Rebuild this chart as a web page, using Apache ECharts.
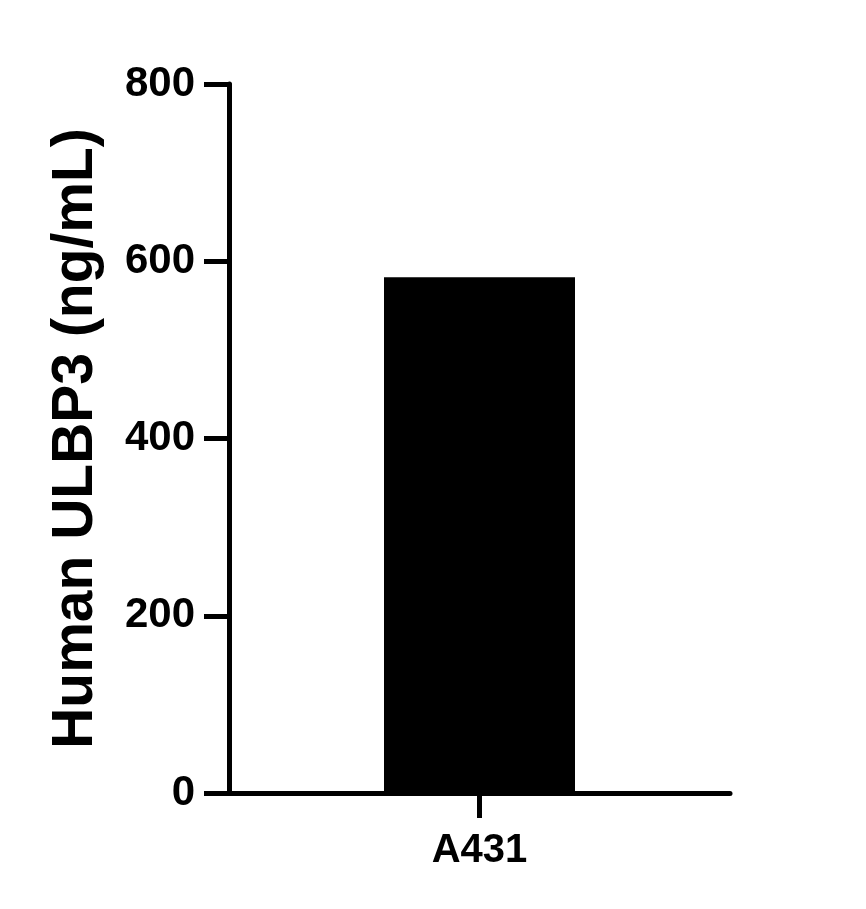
<!DOCTYPE html>
<html><head><meta charset="utf-8">
<script src="https://cdn.jsdelivr.net/npm/echarts@6/dist/echarts.min.js"></script>
<style>html,body{margin:0;padding:0;background:#fff}#c{width:866px;height:909px}</style>
</head><body><div id="c"></div>
<script>
var categories = ['A431'];
var values = [582];
var yTicks = [0, 200, 400, 600, 800];

var chart = echarts.init(document.getElementById('c'), null, {renderer: 'canvas'});
chart.setOption({
  animation: false,
  backgroundColor: '#fff',
  grid: {left: 229, right: 136, top: 84, bottom: 116},
  xAxis: {
    type: 'category',
    data: categories,
    axisLine: {lineStyle: {color: '#000', width: 5}},
    axisTick: {show: true, inside: false, alignWithLabel: true, length: 25, lineStyle: {color: '#000', width: 5}},
    axisLabel: {color: '#000', fontSize: 40, fontWeight: 'bold', fontFamily: 'Liberation Sans, Arial', margin: 38}
  },
  yAxis: {
    type: 'value',
    min: yTicks[0], max: yTicks[yTicks.length - 1], interval: 200,
    name: 'Human ULBP3 (ng/mL)',
    nameLocation: 'middle',
    nameRotate: 90,
    nameGap: 124,
    nameTextStyle: {color: '#000', fontSize: 57, fontWeight: 'bold', fontFamily: 'Liberation Sans, Arial'},
    axisLine: {show: true, lineStyle: {color: '#000', width: 5}},
    axisTick: {show: true, inside: false, length: 25, lineStyle: {color: '#000', width: 5}},
    axisLabel: {color: '#000', fontSize: 42, fontWeight: 'bold', fontFamily: 'Liberation Sans, Arial', margin: 34},
    splitLine: {show: false}
  },
  series: [{
    type: 'bar',
    data: values,
    barWidth: 191,
    itemStyle: {color: '#000'}
  }]
});
</script></body></html>
